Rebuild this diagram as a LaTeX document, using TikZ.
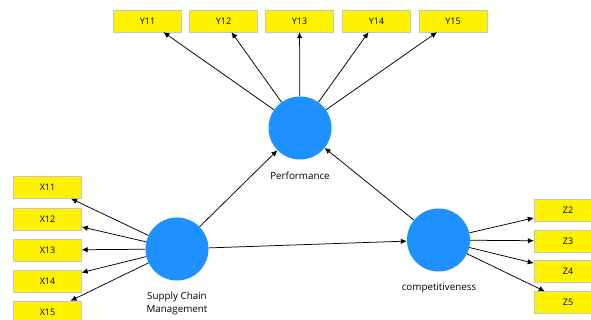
\documentclass[tikz,border=0pt]{standalone}
\usepackage{fontspec}
\setmainfont{Open Sans}
\usetikzlibrary{arrows.meta,positioning}
\definecolor{latentblue}{HTML}{1E90FF}

\begin{document}
\begin{tikzpicture}[x=1pt,y=-1pt,
  indbox/.style={draw=gray!45,fill=yellow,minimum width=68pt,minimum height=22pt,inner sep=0pt,font=\fontsize{9}{10}\selectfont},
  latent/.style={circle,fill=latentblue,minimum size=63pt,inner sep=0pt},
  lbl/.style={align=center,inner sep=0pt,font=\fontsize{9.8}{13}\selectfont},
  load/.style={-{Latex[length=6pt,width=5.5pt]},line width=0.75pt}]
\useasboundingbox (0,0) rectangle (591,320);
\clip (0,0) rectangle (591,320);
% latent variables
\node[latent] (perf) at (300,128) {};
\node[latent] (scm) at (177,249) {};
\node[latent] (comp) at (438.5,240) {};
\node[lbl] (perflbl) at (300,176) {Performance};
\node[lbl] (scmlbl) at (177,303.5) {Supply Chain\\Management};
\node[lbl] (complbl) at (439,288) {competitiveness};
% indicators
\foreach \n/\px in {11/147.5,12/223.5,13/299.5,14/376.5,15/453}
  \node[indbox] (y\n) at (\px,21) {Y\n};
\foreach \n/\py in {11/187.5,12/219,13/250,14/281,15/312}
  \node[indbox] (x\n) at (47.5,\py) {X\n};
\foreach \n/\py in {2/210,3/241,4/271.5,5/302.5}
  \node[indbox] (z\n) at (568,\py) {Z\n};
% loadings
\foreach \n in {11,...,15} {
  \draw[load] (perf) -- (y\n);
  \draw[load] (scm) -- (x\n);
}
\foreach \n in {2,...,5}
  \draw[load] (comp) -- (z\n);
% paths
\draw[load] (scm) -- (perf);
\draw[load] (comp) -- (perf);
\draw[load] (scm) -- (comp);
\end{tikzpicture}
\end{document}
